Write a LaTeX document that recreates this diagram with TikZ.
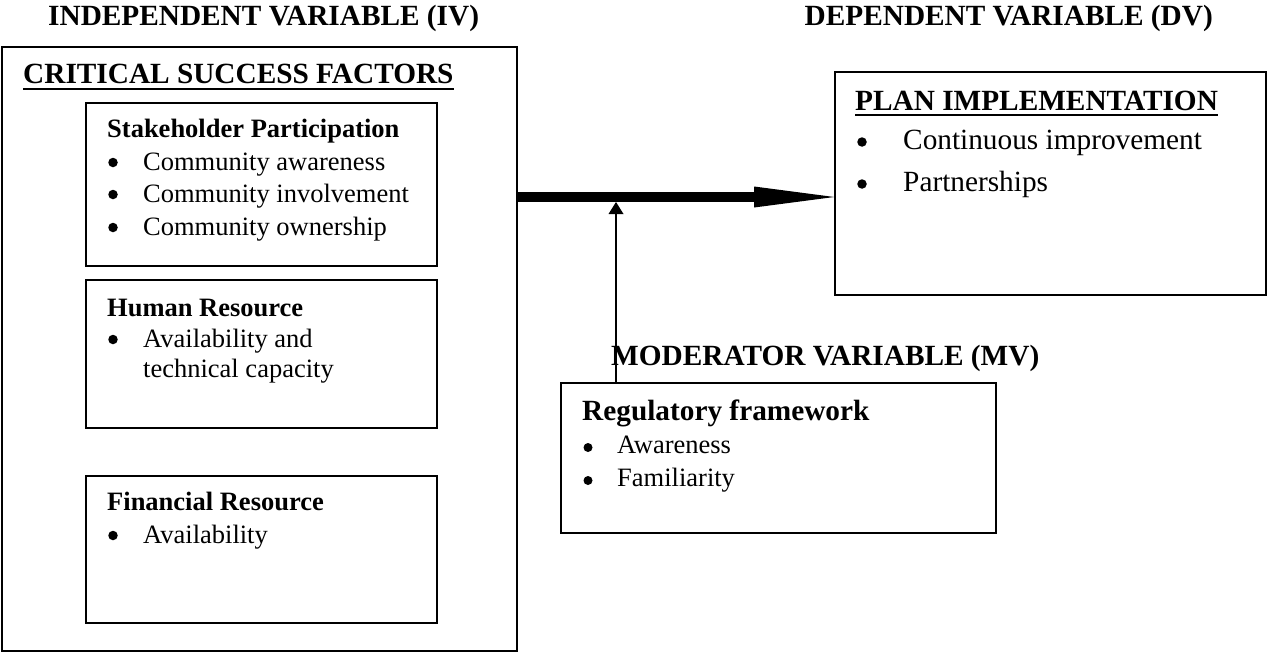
\documentclass[tikz,border=0pt]{standalone}
\usepackage{fontspec}
\setmainfont{Liberation Serif}
\usetikzlibrary{arrows.meta}

\newcommand{\bighead}{\fontsize{29.3pt}{34pt}\selectfont\bfseries}
\newcommand{\smallhead}{\fontsize{26.5pt}{31pt}\selectfont\bfseries}
\newcommand{\bodytext}{\fontsize{26.5pt}{31pt}\selectfont}
\newcommand{\bigbody}{\fontsize{29.3pt}{34pt}\selectfont}

\tikzset{
	frame/.style = {draw, line width=1.6pt, rectangle, inner sep=0pt},
	txt/.style = {anchor=base west, inner sep=0pt},
	dot/.style = {circle, fill, inner sep=0pt, minimum size=9.5pt},
}

\begin{document}
\begin{tikzpicture}[x=1pt,y=-1pt]
	\useasboundingbox (0,0) rectangle (1269,653);
%
	% boxes
	\node[frame, minimum width=515pt, minimum height=604pt] (iv) at (259.5,349) {};
	\node[frame, minimum width=351pt, minimum height=163pt] (stake) at (261.5,184.5) {};
	\node[frame, minimum width=351pt, minimum height=148pt] (human) at (261.5,354) {};
	\node[frame, minimum width=351pt, minimum height=147pt] (fin) at (261.5,549.5) {};
	\node[frame, minimum width=431pt, minimum height=223pt] (dv) at (1050.5,183.5) {};
	\node[frame, minimum width=435pt, minimum height=150pt] (mv) at (778.5,458) {};
%
	% headings
	\node[txt] (ivtitle) at (48,25) {\bighead INDEPENDENT VARIABLE (IV)};
	\node[anchor=base east, inner sep=0pt] (dvtitle) at (1213,25) {\bighead DEPENDENT VARIABLE (DV)};
	\node[txt] (mvtitle) at (611,365) {\bighead MODERATOR VARIABLE (MV)};
%
	\node[txt] (csf) at (23,83) {\bighead CRITICAL SUCCESS FACTORS};
	\draw[line width=2.4pt] ([yshift=-6pt]csf.base west) -- ([yshift=-6pt]csf.base east);
%
	\node[txt] (stakehead) at (107,137) {\smallhead Stakeholder Participation};
	\node[dot] (sa) at (113,162.5) {};
	\node[txt] (aware) at (143,170) {\bodytext Community awareness};
	\node[dot] (sb) at (113,194.5) {};
	\node[txt] (involve) at (143,202) {\bodytext Community involvement};
	\node[dot] (sc) at (113,227.5) {};
	\node[txt] (owner) at (143,235) {\bodytext Community ownership};
%
	\node[txt] (humanhead) at (107,316) {\smallhead Human Resource};
	\node[dot] (ha) at (113,339.5) {};
	\node[txt] (capa) at (143,347) {\bodytext Availability and};
	\node[txt] (capb) at (143,377) {\bodytext technical capacity};
%
	\node[txt] (finhead) at (107,510) {\smallhead Financial Resource};
	\node[dot] (fa) at (113,535.5) {};
	\node[txt] (funds) at (143,543) {\bodytext Availability};
%
	\node[txt] (plan) at (855,110) {\bighead PLAN IMPLEMENTATION};
	\draw[line width=2.4pt] ([yshift=-5pt]plan.base west) -- ([yshift=-5pt]plan.base east);
	\node[dot] (pa) at (862,142) {};
	\node[txt] (improve) at (903,149) {\bigbody Continuous improvement};
	\node[dot] (pb) at (862,184) {};
	\node[txt] (partner) at (903,191) {\bigbody Partnerships};
%
	\node[txt] (regh) at (582,420) {\bighead Regulatory framework};
	\node[dot, minimum size=9pt] (ra) at (588,447.5) {};
	\node[txt] (regaware) at (617,453) {\bodytext Awareness};
	\node[dot, minimum size=9pt] (rb) at (588,480.5) {};
	\node[txt] (regfam) at (617,486) {\bodytext Familiarity};
%
	% arrows
	\coordinate (join) at (iv.east |- 0,197);
	\coordinate (modfoot) at (mv.north -| 616,0);
	\draw[line width=10pt, -{Triangle[length=80pt,width=21pt,line width'=0pt]}] (join) -- (join -| dv.west);
	\draw[line width=2pt, -{Triangle[length=12pt,width=15pt,line width'=0pt]}] (modfoot) -- ([yshift=-5pt]join -| modfoot);
\end{tikzpicture}
\end{document}
